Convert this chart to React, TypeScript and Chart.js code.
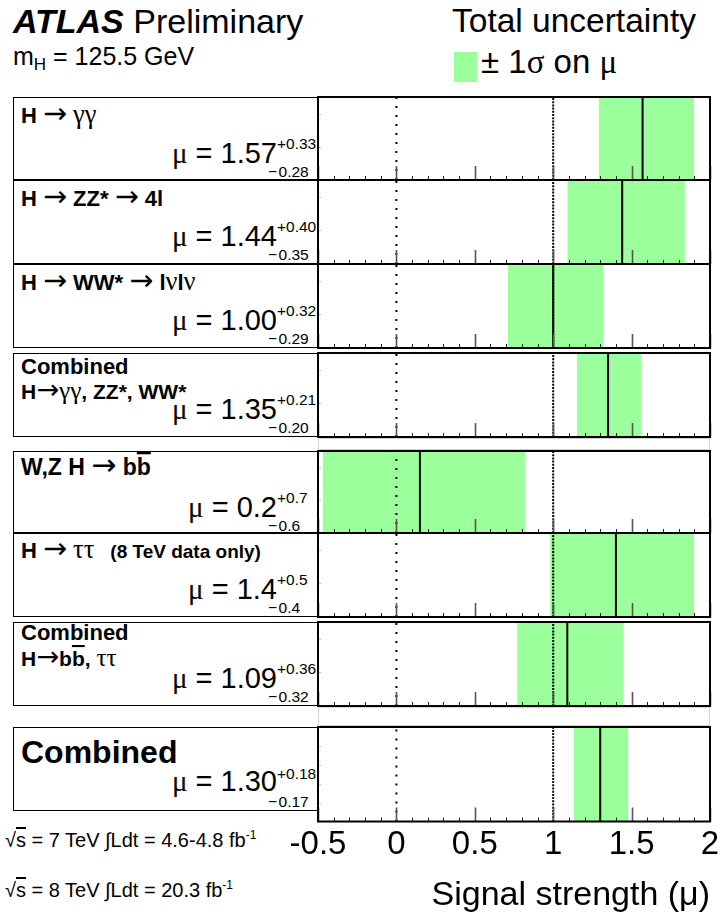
import React, { useEffect, useRef } from "react";
import { Chart, registerables } from "chart.js";

Chart.register(...registerables);

// ---------------- data ----------------
const CHANNELS = [
  "H → γγ",
  "H → ZZ* → 4l",
  "H → WW* → lνlν",
  "Combined",
  "W,Z H → bb\u0304",
  "H → ττ",
  "Combined",
  "Combined",
];
const CHANNEL_SUBLINES = ["", "", "", "H→γγ, ZZ*, WW*", "", "", "H→bb\u0304, ττ", ""];
const CHANNEL_NOTES = ["", "", "", "", "", "(8 TeV data only)", "", ""];

const MU = [1.57, 1.44, 1.0, 1.35, 0.15, 1.4, 1.09, 1.3];
const MU_LOW = [1.29, 1.09, 0.71, 1.15, -0.47, 0.98, 0.77, 1.13];
const MU_HIGH = [1.9, 1.84, 1.32, 1.56, 0.82, 1.9, 1.45, 1.48];

const MU_LABELS = ["1.57", "1.44", "1.00", "1.35", "0.2", "1.4", "1.09", "1.30"];
const ERR_UP_LABELS = ["+0.33", "+0.40", "+0.32", "+0.21", "+0.7", "+0.5", "+0.36", "+0.18"];
const ERR_DOWN_LABELS = ["0.28", "0.35", "0.29", "0.20", "0.6", "0.4", "0.32", "0.17"];

const X_MIN = -0.5;
const X_MAX = 2;
const X_TICK_VALUES = [-0.5, 0, 0.5, 1, 1.5, 2];
const X_TICK_LABELS = ["-0.5", "0", "0.5", "1", "1.5", "2"];
const REFERENCE_LINES = [0, 1];

// ---------------- layout ----------------
const W = 724;
const H = 916;
const FONT = "'Liberation Sans', Arial, Helvetica, sans-serif";
const SERIF = "'Liberation Serif', 'Times New Roman', serif";
const ARROW_FONT = "'DejaVu Sans', 'Liberation Sans', sans-serif";
const GREEN = "rgb(155,255,155)";
const PANEL_TOPS = [97, 180, 264, 353, 451, 533, 622, 727];
const PANEL_BOTTOMS = [180, 264, 348, 437, 533, 617, 706, 811];
const PLOT_LEFT = 318;
const PLOT_RIGHT = 710;
const BOX_LEFT = 13;
const GAPS = [
  [437, 451],
  [706, 727],
];

const TITLE_SIZE = [22, 22, 22, 22, 23, 22, 22, 32];
const TITLE_Y = [26, 26, 26, 21, 24, 25, 18, 36];
const SUBLINE_Y = [0, 0, 0, 46, 0, 0, 44, 0];

const SYMBOL_CHARS = "→γτνμσ";

function rich(s: string, keyBase: string) {
  const chars = Array.from(s);
  const out: any[] = [];
  let run = "";
  const flush = (k: number) => {
    if (run) {
      out.push(<tspan key={keyBase + "r" + k}>{run}</tspan>);
      run = "";
    }
  };
  for (let i = 0; i < chars.length; i++) {
    const c = chars[i];
    if (chars[i + 1] === "\u0304") {
      flush(i);
      out.push(
        <tspan key={keyBase + "o" + i} style={{ textDecoration: "overline" }}>
          {c}
        </tspan>
      );
      i++;
      continue;
    }
    if (SYMBOL_CHARS.includes(c)) {
      flush(i);
      const arrow = c === "→";
      out.push(
        <tspan
          key={keyBase + "s" + i}
          fontWeight="normal"
          fontFamily={arrow ? ARROW_FONT : SERIF}
          fontSize={arrow ? "1.3em" : "1.2em"}
        >
          {c}
        </tspan>
      );
      continue;
    }
    run += c;
  }
  flush(chars.length);
  return out;
}

const isMajor = (v: number) => X_TICK_VALUES.some((t) => Math.abs(t - v) < 1e-6);

const framePlugin = {
  id: "rootFrame",
  afterDatasetsDraw(chart: any) {
    const { ctx, chartArea: a, scales } = chart;
    const x = scales.x;
    const y = scales.y;
    ctx.save();
    const ticks = x.ticks && x.ticks.length ? x.ticks.map((t: any) => t.value) : [];
    for (const v of ticks) {
      const px = Math.round(x.getPixelForValue(v)) + 0.5;
      const major = isMajor(v);
      ctx.strokeStyle = major ? "#555" : "#222";
      ctx.lineWidth = major ? 1.6 : 1;
      ctx.beginPath();
      ctx.moveTo(px, a.bottom);
      ctx.lineTo(px, a.bottom - (major ? 14 : 4));
      ctx.stroke();
    }
    const yt = y.ticks && y.ticks.length ? y.ticks.map((t: any) => t.value) : [];
    ctx.strokeStyle = "#bbb";
    ctx.lineWidth = 1;
    for (const v of yt) {
      if (v <= 0 || v >= 1) continue;
      const py = Math.round(y.getPixelForValue(v)) + 0.5;
      ctx.beginPath();
      ctx.moveTo(a.left, py);
      ctx.lineTo(a.left + 3, py);
      ctx.stroke();
    }
    ctx.strokeStyle = "#000";
    ctx.lineWidth = 2;
    ctx.strokeRect(a.left, a.top, a.right - a.left, a.bottom - a.top);
    ctx.restore();
  },
};

function PanelChart({ index }: { index: number }) {
  const ref = useRef<HTMLCanvasElement>(null);
  const isLast = index === MU.length - 1;
  const top = PANEL_TOPS[index];
  const bottom = PANEL_BOTTOMS[index];
  const left = isLast ? 250 : PLOT_LEFT - 2;
  const cTop = top - 2;
  const width = isLast ? 760 - 250 : PLOT_RIGHT - PLOT_LEFT + 4;
  const height = isLast ? H - cTop : bottom - top + 4;

  useEffect(() => {
    if (!ref.current) return;
    const datasets: any[] = [
      {
        data: [
          { x: MU_LOW[index], y: 1 },
          { x: MU_HIGH[index], y: 1 },
        ],
        showLine: true,
        fill: "origin",
        backgroundColor: GREEN,
        borderWidth: 0,
        borderColor: GREEN,
        pointRadius: 0,
        order: 3,
      },
      ...REFERENCE_LINES.map((v, k) => ({
        data: [
          { x: v, y: 0 },
          { x: v, y: 1 },
        ],
        showLine: true,
        fill: false,
        borderColor: "#000",
        borderWidth: 2,
        borderDash: k === 0 ? [2, 7] : [2, 1.2],
        pointRadius: 0,
        order: 2,
      })),
      {
        data: [
          { x: MU[index], y: 0 },
          { x: MU[index], y: 1 },
        ],
        showLine: true,
        fill: false,
        borderColor: "#000",
        borderWidth: 2,
        pointRadius: 0,
        order: 1,
      },
    ];
    const chart = new Chart(ref.current, {
      type: "scatter",
      data: { datasets },
      options: {
        animation: false,
        responsive: false,
        events: [],
        layout: {
          padding: isLast ? { left: 68, right: 50, top: 2, bottom: 0 } : 2,
        },
        plugins: {
          legend: { display: false },
          tooltip: { enabled: false },
        },
        scales: {
          x: {
            type: "linear",
            min: X_MIN,
            max: X_MAX,
            display: isLast,
            grid: { display: false, drawTicks: false },
            border: { display: false },
            ticks: {
              stepSize: 0.1,
              autoSkip: false,
              maxRotation: 0,
              minRotation: 0,
              padding: 4,
              color: "#000",
              font: { family: FONT, size: 33 },
              callback: (v: any) => {
                const i = X_TICK_VALUES.findIndex((t) => Math.abs(t - Number(v)) < 1e-6);
                return i >= 0 ? X_TICK_LABELS[i] : "";
              },
            },
            title: {
              display: isLast,
              text: "Signal strength (μ)",
              align: "end",
              color: "#000",
              font: { family: FONT, size: 34 },
              padding: { top: 16, bottom: 0 },
            },
          },
          y: {
            type: "linear",
            min: 0,
            max: 1,
            display: false,
            ticks: { stepSize: 0.2 },
          },
        },
      },
      plugins: [framePlugin],
    } as any);
    return () => chart.destroy();
  }, []);

  return (
    <canvas
      ref={ref}
      width={width}
      height={height}
      style={{ position: "absolute", left, top: cTop, width, height }}
    />
  );
}

export default function App() {
  return (
    <div
      style={{
        position: "absolute",
        left: 0,
        top: 0,
        width: W,
        height: H,
        background: "#fff",
        overflow: "hidden",
      }}
    >
      <svg
        width={W}
        height={H}
        style={{ position: "absolute", left: 0, top: 0 }}
        fontFamily={FONT}
        fill="#000"
      >
        {/* header */}
        <text x={13} y={33} fontSize={34}>
          <tspan fontWeight="bold" fontStyle="italic">ATLAS</tspan> Preliminary
        </text>
        <text x={13} y={65} fontSize={25}>
          m<tspan fontSize={17} dy={5}>H</tspan>
          <tspan dy={-5}> = 125.5 GeV</tspan>
        </text>
        <text x={452} y={32} fontSize={33.5}>
          Total uncertainty
        </text>
        <rect x={454} y={52} width={23} height={30} fill={GREEN} />
        <text x={481} y={73} fontSize={33}>
          ± 1<tspan fontFamily={SERIF}>σ</tspan> on <tspan fontFamily={SERIF}>μ</tspan>
        </text>

        {/* gaps */}
        {GAPS.map(([a, b], i) => (
          <rect
            key={"gap" + i}
            x={PLOT_LEFT + 0.5}
            y={a + 1.5}
            width={PLOT_RIGHT - PLOT_LEFT - 1}
            height={b - a - 3}
            fill="none"
            stroke="#d4d4d4"
            strokeWidth={1}
          />
        ))}

        {/* panel label boxes */}
        {MU.map((_, i) => {
          const T = PANEL_TOPS[i];
          const B = PANEL_BOTTOMS[i];
          const last = i === MU.length - 1;
          return (
            <g key={"p" + i}>
              <rect
                x={BOX_LEFT + 0.5}
                y={T + 0.5}
                width={PLOT_LEFT - BOX_LEFT}
                height={B - T - 1}
                fill="none"
                stroke="#000"
                strokeWidth={1}
              />
              <text x={21} y={T + TITLE_Y[i]} fontSize={TITLE_SIZE[i]} fontWeight="bold">
                {rich(CHANNELS[i], "c" + i)}
                {CHANNEL_NOTES[i] ? (
                  <tspan fontSize={19} dx={16}>
                    {CHANNEL_NOTES[i]}
                  </tspan>
                ) : null}
              </text>
              {CHANNEL_SUBLINES[i] ? (
                <text x={21} y={T + SUBLINE_Y[i]} fontSize={21} fontWeight="bold">
                  {rich(CHANNEL_SUBLINES[i], "s" + i)}
                </text>
              ) : null}
              <text x={277} y={T + (last ? 64 : 66)} fontSize={29} textAnchor="end">
                <tspan fontFamily={SERIF}>μ</tspan> = {MU_LABELS[i]}
              </text>
              <text x={277} y={T + 52} fontSize={15.5}>
                {ERR_UP_LABELS[i]}
              </text>
              <text x={268} y={T + 80} fontSize={15.5}>
                −<tspan dx={1.5}>{ERR_DOWN_LABELS[i]}</tspan>
              </text>
            </g>
          );
        })}

        {/* luminosity */}
        <text x={5} y={847} fontSize={20}>
          √<tspan style={{ textDecoration: "overline" }}>s</tspan> = 7 TeV ∫Ldt = 4.6-4.8 fb
          <tspan fontSize={12} dy={-8}>-1</tspan>
        </text>
        <text x={5} y={897} fontSize={20}>
          √<tspan style={{ textDecoration: "overline" }}>s</tspan> = 8 TeV ∫Ldt = 20.3 fb
          <tspan fontSize={12} dy={-8}>-1</tspan>
        </text>
      </svg>
      {MU.map((_, i) => (
        <PanelChart key={"c" + i} index={i} />
      ))}
    </div>
  );
}
